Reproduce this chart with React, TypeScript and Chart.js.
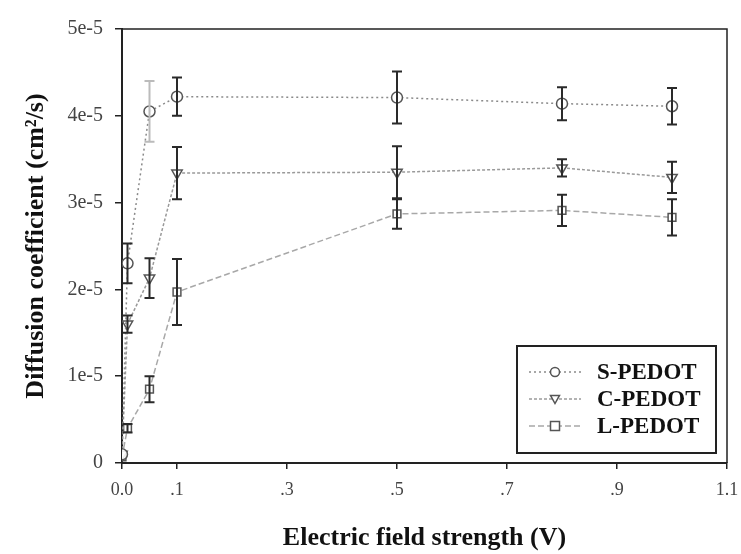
import React, { useEffect, useRef } from "react";
import { Chart, registerables } from "chart.js";

Chart.register(...registerables);

// ---- data ----
const voltages = [0, 0.01, 0.05, 0.1, 0.5, 0.8, 1.0];
const sPedot = [0.1e-5, 2.3e-5, 4.05e-5, 4.22e-5, 4.21e-5, 4.14e-5, 4.11e-5];
const sPedotErr = [0, 0.23e-5, 0.35e-5, 0.22e-5, 0.3e-5, 0.19e-5, 0.21e-5];
const cPedot = [0.1e-5, 1.6e-5, 2.13e-5, 3.34e-5, 3.35e-5, 3.4e-5, 3.29e-5];
const cPedotErr = [0, 0.1e-5, 0.23e-5, 0.3e-5, 0.3e-5, 0.1e-5, 0.18e-5];
const lPedot = [0.07e-5, 0.4e-5, 0.85e-5, 1.97e-5, 2.87e-5, 2.91e-5, 2.83e-5];
const lPedotErr = [0, 0.05e-5, 0.15e-5, 0.38e-5, 0.17e-5, 0.18e-5, 0.21e-5];

const seriesLabels = ["S-PEDOT", "C-PEDOT", "L-PEDOT"];

const xTickValues = [0, 0.1, 0.3, 0.5, 0.7, 0.9, 1.1];
const xTickLabels = ["0.0", ".1", ".3", ".5", ".7", ".9", "1.1"];
const yTickValues = [0, 1e-5, 2e-5, 3e-5, 4e-5, 5e-5];
const yTickLabels = ["0", "1e-5", "2e-5", "3e-5", "4e-5", "5e-5"];

const xTitle = "Electric field strength (V)";
const yTitle = "Diffusion coefficient (cm\u00B2/s)";

const SERIF = "'Liberation Serif', 'DejaVu Serif', serif";

const errorSets = [sPedotErr, cPedotErr, lPedotErr];

const errorBarPlugin = {
  id: "errorBars",
  afterDatasetsDraw(chart: any) {
    const { ctx, scales } = chart;
    const xs = scales.x;
    const ys = scales.y;
    ctx.save();
    chart.data.datasets.forEach((ds: any, di: number) => {
      const errs = errorSets[di];
      ds.data.forEach((p: any, i: number) => {
        const e = errs[i];
        if (!e) return;
        const px = xs.getPixelForValue(p.x);
        const top = ys.getPixelForValue(p.y + e);
        const bot = ys.getPixelForValue(p.y - e);
        ctx.strokeStyle = di === 0 && i === 2 ? "#bbbbbb" : "#2a2a2a";
        ctx.lineWidth = 2;
        ctx.beginPath();
        ctx.moveTo(px, top);
        ctx.lineTo(px, bot);
        ctx.moveTo(px - 5, top);
        ctx.lineTo(px + 5, top);
        ctx.moveTo(px - 5, bot);
        ctx.lineTo(px + 5, bot);
        ctx.stroke();
      });
    });
    ctx.restore();
  },
};

const framePlugin = {
  id: "frame",
  afterDraw(chart: any) {
    const { ctx, chartArea } = chart;
    ctx.save();
    ctx.strokeStyle = "#222";
    ctx.lineWidth = 1.5;
    ctx.beginPath();
    ctx.moveTo(chartArea.left, chartArea.top);
    ctx.lineTo(chartArea.right, chartArea.top);
    ctx.lineTo(chartArea.right, chartArea.bottom);
    ctx.stroke();
    ctx.restore();
  },
};

const legendPlugin = {
  id: "boxLegend",
  afterDraw(chart: any) {
    const { ctx, chartArea } = chart;
    const w = 199;
    const h = 107;
    const x0 = chartArea.right - 11 - w;
    const y0 = chartArea.bottom - 10 - h;
    ctx.save();
    ctx.fillStyle = "#ffffff";
    ctx.fillRect(x0, y0, w, h);
    ctx.strokeStyle = "#222";
    ctx.lineWidth = 2;
    ctx.strokeRect(x0, y0, w, h);
    chart.data.datasets.forEach((ds: any, i: number) => {
      const cy = y0 + 26 + i * 27;
      ctx.strokeStyle = ds.borderColor;
      ctx.lineWidth = 1.5;
      ctx.setLineDash(ds.borderDash || []);
      ctx.beginPath();
      ctx.moveTo(x0 + 12, cy);
      ctx.lineTo(x0 + 64, cy);
      ctx.stroke();
      ctx.setLineDash([]);
      ctx.fillStyle = "#fff";
      ctx.strokeStyle = ds.pointBorderColor;
      ctx.lineWidth = 1.5;
      const mx = x0 + 38;
      const r = 4.5;
      ctx.beginPath();
      if (ds.pointStyle === "circle") {
        ctx.arc(mx, cy, r, 0, Math.PI * 2);
      } else if (ds.pointStyle === "triangle") {
        ctx.moveTo(mx - r, cy - r * 0.8);
        ctx.lineTo(mx + r, cy - r * 0.8);
        ctx.lineTo(mx, cy + r);
        ctx.closePath();
      } else {
        ctx.rect(mx - r, cy - r, 2 * r, 2 * r);
      }
      ctx.fill();
      ctx.stroke();
      ctx.fillStyle = "#111";
      ctx.font = `bold 23px ${SERIF}`;
      ctx.textBaseline = "middle";
      ctx.textAlign = "left";
      ctx.fillText(ds.label, x0 + 80, cy + 1);
    });
    ctx.restore();
  },
};

export default function App() {
  const canvasRef = useRef<HTMLCanvasElement | null>(null);

  useEffect(() => {
    document.body.style.margin = "0";
    const canvas = canvasRef.current;
    if (!canvas) return;

    const mk = (vals: number[]) => voltages.map((x, i) => ({ x, y: vals[i] }));

    const chart = new Chart(canvas, {
      type: "scatter",
      data: {
        datasets: [
          {
            label: seriesLabels[0],
            data: mk(sPedot),
            showLine: true,
            borderColor: "#8a8a8a",
            borderWidth: 1.5,
            borderDash: [2, 3],
            pointStyle: "circle",
            pointRadius: 5.5,
            pointBorderColor: "#555",
            pointBackgroundColor: "rgba(255,255,255,0.9)",
            pointBorderWidth: 1.5,
          },
          {
            label: seriesLabels[1],
            data: mk(cPedot),
            showLine: true,
            borderColor: "#9a9a9a",
            borderWidth: 1.5,
            borderDash: [3, 2],
            pointStyle: "triangle",
            rotation: 180,
            pointRadius: 6,
            pointBorderColor: "#555",
            pointBackgroundColor: "rgba(255,255,255,0.9)",
            pointBorderWidth: 1.5,
          },
          {
            label: seriesLabels[2],
            data: mk(lPedot),
            showLine: true,
            borderColor: "#a8a8a8",
            borderWidth: 1.5,
            borderDash: [6, 3],
            pointStyle: "rect",
            pointRadius: 5.5,
            pointBorderColor: "#555",
            pointBackgroundColor: "rgba(255,255,255,0.9)",
            pointBorderWidth: 1.5,
          },
        ],
      },
      options: {
        animation: false,
        responsive: false,
        devicePixelRatio: 1,
        layout: { padding: { top: 29, right: 14, left: 0, bottom: 0 } },
        plugins: {
          legend: { display: false },
          tooltip: { enabled: false },
        },
        scales: {
          x: {
            type: "linear",
            min: 0,
            max: 1.1,
            afterBuildTicks: (scale: any) => {
              scale.ticks = xTickValues.map((v) => ({ value: v }));
            },
            afterFit: (scale: any) => {
              scale.height = 91;
              scale.paddingRight = 0;
              scale.paddingLeft = 0;
            },
            ticks: {
              autoSkip: false,
              maxRotation: 0,
              padding: 10,
              color: "#444",
              font: { family: SERIF, size: 18 },
              callback: (_v: any, i: number) => xTickLabels[i],
            },
            grid: {
              drawOnChartArea: false,
              drawTicks: true,
              tickLength: 6,
              color: "#222",
              lineWidth: 1.5,
            },
            border: { display: true, color: "#222", width: 2 },
            title: {
              display: true,
              text: xTitle,
              color: "#111",
              font: { family: SERIF, size: 26, weight: "bold" },
              padding: { top: 0, bottom: 0 },
            },
          },
          y: {
            type: "linear",
            min: 0,
            max: 5e-5,
            afterBuildTicks: (scale: any) => {
              scale.ticks = yTickValues.map((v) => ({ value: v }));
            },
            afterFit: (scale: any) => {
              scale.width = 122;
              scale.paddingTop = 0;
              scale.paddingBottom = 0;
            },
            ticks: {
              autoSkip: false,
              padding: 12,
              color: "#444",
              font: { family: SERIF, size: 20 },
              callback: (_v: any, i: number) => yTickLabels[i],
            },
            grid: {
              drawOnChartArea: false,
              drawTicks: true,
              tickLength: 7,
              color: "#222",
              lineWidth: 1.5,
            },
            border: { display: true, color: "#222", width: 2 },
            title: {
              display: true,
              text: yTitle,
              color: "#111",
              font: { family: SERIF, size: 26, weight: "bold" },
              padding: { top: 21, bottom: 0 },
            },
          },
        },
      },
      plugins: [errorBarPlugin, framePlugin, legendPlugin],
    } as any);

    return () => chart.destroy();
  }, []);

  return (
    <div style={{ width: 741, height: 554, background: "#fff" }}>
      <canvas ref={canvasRef} width={741} height={554} style={{ display: "block" }} />
    </div>
  );
}
